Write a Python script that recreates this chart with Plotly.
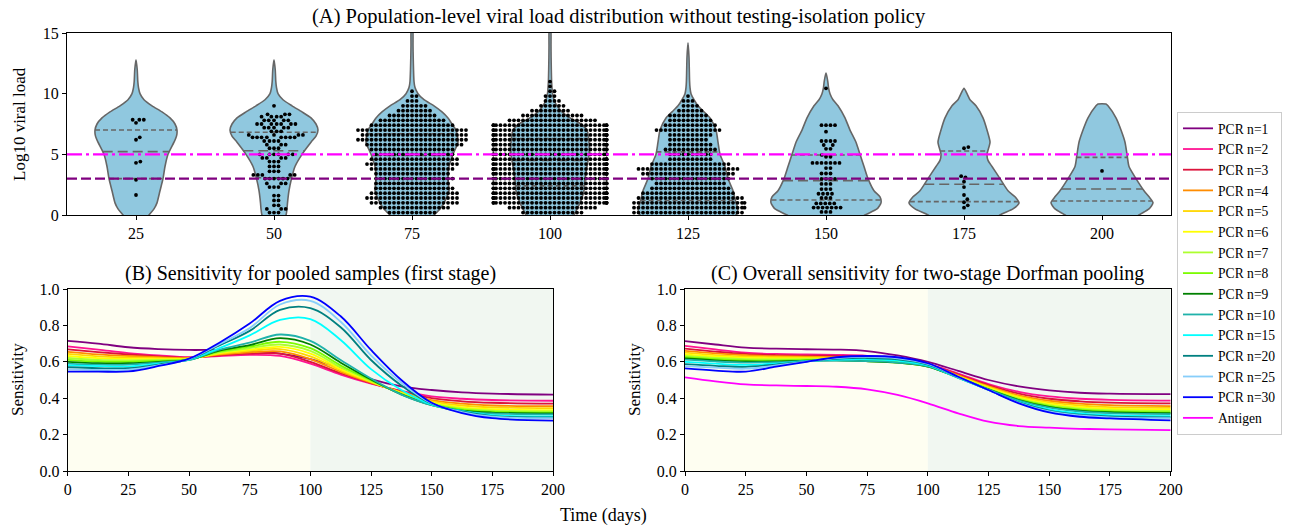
import numpy as np
import plotly.graph_objects as go

W, H = 1301, 526
FONT = "Liberation Serif, Times New Roman, serif"

# ---------------- Panel A data ----------------
groups = ["25", "50", "75", "100", "125", "150", "175", "200"]

# swarm points: log10 viral load levels and number of individuals at each level
swarm_levels = [
    [1.65, 2.9, 4.3, 4.4, 6.2, 6.4, 7.6, 7.85],
    [0.2, 0.5, 0.8, 1.2, 1.6, 2.3, 2.6, 3.0, 3.3, 3.6, 4.0, 4.4, 4.7, 5.0, 5.5, 5.8,
     6.1, 6.4, 6.6, 6.9, 7.2, 7.5, 7.8, 8.1, 8.3, 9.0],
    [0.2, 0.6, 1.0, 1.4, 1.8, 2.2, 2.6, 3.0, 3.4, 3.8, 4.2, 4.6, 5.0, 5.4, 5.8, 6.2,
     6.6, 7.0, 7.4, 7.8, 8.2, 8.6, 9.0, 9.4, 9.8, 10.2],
    [0.2, 0.6, 1.0, 1.4, 1.8, 2.2, 2.6, 3.0, 3.4, 3.8, 4.2, 4.6, 5.0, 5.4, 5.8, 6.2,
     6.6, 7.0, 7.4, 7.8, 8.2, 8.6, 9.0, 9.4, 9.8, 10.2, 10.6, 11.0],
    [0.2, 0.6, 1.0, 1.4, 1.8, 2.2, 2.6, 3.0, 3.4, 3.8, 4.2, 4.6, 5.0, 5.4, 5.8, 6.2,
     6.6, 7.0, 7.4, 7.8, 8.2, 8.6, 9.0, 9.4, 9.8],
    [0.25, 0.61, 0.95, 1.4, 1.75, 2.14, 2.56, 2.97, 3.42, 3.87, 4.29, 4.8, 4.95, 5.45,
     5.77, 6.1, 6.87, 7.4, 10.44],
    [0.6, 0.8, 1.05, 1.3, 1.65, 2.3, 2.75, 3.1, 3.2, 5.5, 5.6],
    [3.63],
]
swarm_counts = [
    [1, 1, 1, 1, 1, 1, 1, 3],
    [3, 3, 2, 2, 2, 3, 3, 6, 5, 3, 3, 3, 4, 6, 3, 3, 4, 8, 4, 3, 5, 7, 5, 4, 3, 1],
    [11, 16, 20, 21, 20, 18, 17, 18, 17, 19, 21, 20, 18, 19, 22, 25, 24, 25, 19, 15,
     11, 8, 6, 3, 2, 1],
    [14, 20, 30, 31, 30, 30, 31, 30, 30, 31, 30, 30, 31, 30, 30, 31, 30, 30, 29, 20,
     14, 9, 6, 4, 3, 2, 1, 1],
    [25, 26, 26, 24, 21, 18, 16, 18, 21, 23, 18, 10, 10, 12, 10, 9, 10, 15, 12, 10,
     9, 6, 4, 3, 1],
    [3, 7, 5, 3, 4, 3, 3, 4, 3, 2, 7, 2, 1, 2, 2, 4, 1, 4, 1],
    [1, 1, 1, 1, 1, 1, 1, 1, 1, 1, 1],
    [1],
]

# violin density profiles (arbitrary units) at log10 viral load levels
violin_levels = [
    [-1, 0, 0.5, 1, 2, 3, 4, 5, 6, 6.5, 7, 7.5, 8, 8.5, 9, 9.5, 10, 10.5, 11, 12, 12.8],
    [-1, 0, 0.5, 1, 2, 3, 4, 5, 6, 6.5, 7, 7.5, 8, 8.5, 9, 9.5, 10, 10.5, 11, 12, 12.8],
    [-1, 0, 0.5, 1, 2, 3, 4, 5, 6, 7, 7.5, 8, 8.5, 9, 9.5, 10, 10.5, 11, 12, 13, 14, 15, 16],
    [-1, 0, 0.5, 1, 2, 3, 4, 5, 6, 7, 7.5, 8, 8.5, 9, 9.5, 10, 10.5, 11, 12, 13, 14, 15, 16],
    [-1, 0, 0.5, 1, 2, 3, 4, 5, 6, 7, 8, 8.5, 9, 9.5, 10, 10.5, 11, 12, 13, 14.2],
    [-1, 0, 0.5, 1, 1.5, 2, 3, 4, 5, 6, 7, 8, 9, 9.5, 10, 10.5, 11, 11.7],
    [-1, 0, 0.5, 1, 1.5, 2, 3, 4, 4.5, 5, 6, 7, 8, 9, 9.5, 10, 10.44],
    [-1, 0, 0.5, 1, 1.5, 2, 3, 4, 5, 6, 7, 8, 9, 9.15],
]
violin_density = [
    [5, 13, 18, 21, 24, 27, 29, 32, 38, 40.5, 41, 39, 34, 26, 16, 8, 4, 2.5, 1.8, 1.2, 0],
    [3, 12, 13, 13.5, 15, 17.5, 21, 28, 37, 42, 44, 42, 37, 28, 18, 9, 4, 2.5, 1.8, 1.2, 0],
    [10, 22, 28, 32, 37, 36, 37, 41, 46, 44, 40, 36, 30, 22, 12, 6, 3, 2, 1.5, 1.2, 1, 1, 0],
    [12, 24, 27, 30, 34, 35, 37, 39, 39, 37, 31, 20, 12, 7, 4, 2.5, 2, 1.6, 1.3, 1.1, 1, 1, 0],
    [30, 48, 50, 48, 45, 40, 37, 32, 30, 28, 22, 16, 10, 6, 3, 2, 1.6, 1.3, 1, 0],
    [20, 39, 51, 55, 54, 48, 42, 38, 34, 30, 24, 19, 12, 7, 4, 2.5, 1.8, 0],
    [20, 36, 49, 55, 51, 44, 36, 28, 24, 23, 26, 23, 19, 12, 6, 3, 0],
    [20, 37, 47, 51, 47, 42, 34, 27, 25, 23, 19, 14, 6, 4],
]
q1_vals = [3.0, 3.07, 2.6, 2.4, 1.2, 1.24, 1.1, 1.15]
median_vals = [5.22, 5.3, 4.9, 4.5, 3.0, 2.83, 2.53, 2.14]
q3_vals = [7.0, 6.82, 6.7, 6.3, 5.2, 4.95, 5.27, 4.75]

pcr_threshold = 3.0
antigen_threshold = 5.0

# ---------------- Panels B / C data ----------------
days = [0, 12.5, 25, 37.5, 50, 62.5, 75, 87.5, 100, 112.5, 125, 137.5, 150, 162.5, 175, 200]
pool_names = ["PCR n=1", "PCR n=2", "PCR n=3", "PCR n=4", "PCR n=5", "PCR n=6", "PCR n=7",
              "PCR n=8", "PCR n=9", "PCR n=10", "PCR n=15", "PCR n=20", "PCR n=25", "PCR n=30"]
pool_colors = ["#800080", "#ff1493", "#dc143c", "#ff8c00", "#ffd700", "#ffff00", "#adff2f",
               "#7cfc00", "#008000", "#20b2aa", "#00ffff", "#008080", "#87cefa", "#0000ff"]

sens_first_stage = [
    [.715, .700, .680, .670, .665, .665, .660, .645, .615, .565, .505, .465, .445, .432, .425, .420],
    [.685, .667, .648, .635, .625, .632, .638, .632, .590, .530, .480, .440, .410, .397, .390, .386],
    [.668, .653, .640, .630, .623, .636, .645, .645, .600, .537, .483, .437, .400, .383, .375, .370],
    [.655, .641, .632, .625, .621, .640, .652, .657, .615, .545, .486, .434, .390, .370, .360, .356],
    [.643, .630, .624, .620, .619, .644, .660, .670, .630, .553, .489, .431, .383, .360, .350, .345],
    [.632, .620, .616, .615, .617, .648, .667, .682, .645, .561, .492, .428, .377, .350, .340, .335],
    [.621, .610, .608, .610, .615, .652, .675, .695, .660, .570, .495, .425, .371, .343, .332, .327],
    [.611, .601, .600, .605, .613, .657, .683, .710, .675, .580, .499, .423, .366, .337, .326, .321],
    [.600, .592, .592, .600, .611, .662, .692, .730, .695, .595, .503, .421, .362, .332, .321, .316],
    [.590, .584, .584, .596, .610, .667, .705, .750, .715, .610, .508, .420, .362, .327, .316, .311],
    [.580, .576, .574, .590, .612, .675, .745, .830, .835, .720, .560, .445, .365, .330, .307, .300],
    [.570, .565, .565, .585, .614, .690, .770, .885, .895, .790, .610, .470, .370, .327, .302, .295],
    [.558, .555, .557, .581, .615, .697, .785, .915, .935, .820, .635, .485, .372, .324, .298, .290],
    [.546, .546, .547, .577, .617, .705, .810, .935, .958, .850, .665, .500, .375, .318, .290, .277],
]
sens_two_stage = [
    [.714, .695, .678, .672, .669, .667, .659, .635, .600, .550, .500, .465, .443, .430, .425, .422],
    [.688, .668, .650, .643, .640, .638, .633, .618, .588, .535, .478, .435, .410, .397, .391, .387],
    [.672, .656, .643, .637, .634, .632, .627, .613, .585, .530, .472, .425, .397, .383, .376, .372],
    [.660, .646, .636, .631, .628, .626, .621, .608, .582, .526, .466, .416, .386, .370, .362, .357],
    [.650, .637, .629, .625, .623, .621, .616, .604, .579, .522, .461, .409, .377, .360, .351, .347],
    [.640, .629, .622, .619, .618, .617, .611, .600, .577, .519, .457, .403, .369, .351, .342, .337],
    [.632, .621, .615, .613, .614, .613, .607, .597, .575, .516, .453, .398, .362, .343, .334, .330],
    [.625, .614, .608, .607, .610, .610, .604, .595, .574, .514, .450, .393, .357, .337, .328, .324],
    [.618, .608, .602, .602, .607, .608, .603, .595, .574, .513, .448, .390, .352, .332, .323, .318],
    [.612, .602, .596, .598, .605, .607, .604, .596, .575, .512, .447, .387, .348, .327, .318, .313],
    [.600, .590, .583, .590, .603, .612, .614, .606, .580, .513, .445, .380, .338, .316, .307, .302],
    [.587, .578, .572, .585, .602, .616, .621, .613, .585, .515, .445, .377, .332, .309, .300, .295],
    [.576, .568, .562, .580, .601, .620, .627, .619, .589, .516, .445, .375, .327, .305, .295, .290],
    [.564, .552, .546, .573, .600, .625, .632, .625, .592, .518, .445, .372, .322, .298, .289, .278],
]
antigen_sens = [.515, .493, .476, .470, .467, .463, .449, .418, .372, .317, .271, .247, .238, .232, .229, .225]

shade_regions = [(0, 100, "#fefef1"), (100, 200, "#f1f7f1")]

# ---------------- geometry helpers (pixel layout) ----------------
def dom_x(a, b):
    return [a / W, b / W]

def dom_y(top, bottom):
    return [1 - bottom / H, 1 - top / H]

A_X = (67, 1171); A_Y = (33, 215)
B_X = (67.7, 553); B_Y = (289, 471)
C_X = (685, 1170.7); C_Y = (289, 471)

PX_PER_CAT = (A_X[1] - A_X[0]) / 8.0
PX_PER_UNIT = (A_Y[1] - A_Y[0]) / 15.0
DOT = 4.5
SWARM_HALF = 0.41

def beeswarm(values, d, ypx):
    vals = np.sort(np.asarray(values, float))
    ys = vals * ypx
    xs = np.zeros_like(ys)
    for k in range(len(ys)):
        y = ys[k]
        j0 = np.searchsorted(ys[:k], y - d, side="right")
        nx = xs[j0:k]
        dy = y - ys[j0:k]
        if len(nx) == 0:
            xs[k] = 0.0
            continue
        dxs = np.sqrt(np.maximum(d * d - dy * dy, 0))
        cand = np.concatenate([[0.0], nx + dxs, nx - dxs])
        cand = cand[np.argsort(np.abs(cand), kind="stable")]
        dist2 = (cand[:, None] - nx[None, :]) ** 2 + dy[None, :] ** 2
        ok = np.all(dist2 >= d * d - 1e-6, axis=1)
        xs[k] = cand[np.argmax(ok)] if ok.any() else 0.0
    return vals, xs

fig = go.Figure()

VIOLIN_FILL = "#90c8df"
VIOLIN_LINE = "#666666"

# violins
for i in range(len(groups)):
    lv = np.array(violin_levels[i], float)
    hw = np.array(violin_density[i], float) / PX_PER_CAT
    right_x = i + hw
    left_x = (i - hw)[::-1]
    left_y = lv[::-1]
    if hw[-1] == 0:
        left_x = left_x[1:]
        left_y = left_y[1:]
    fig.add_trace(go.Scatter(
        x=np.concatenate([right_x, left_x]), y=np.concatenate([lv, left_y]),
        mode="lines", fill="toself", fillcolor=VIOLIN_FILL,
        line=dict(color=VIOLIN_LINE, width=1.6, shape="spline", smoothing=0.6),
        xaxis="x", yaxis="y", showlegend=False, hoverinfo="skip"))
    for q, dash in ((q1_vals[i], "5px,3px"), (median_vals[i], "10px,5px"), (q3_vals[i], "5px,3px")):
        w = np.interp(q, lv, hw)
        fig.add_trace(go.Scatter(
            x=[i - w, i + w], y=[q, q], mode="lines",
            line=dict(color=VIOLIN_LINE, width=1.6, dash=dash),
            xaxis="x", yaxis="y", showlegend=False, hoverinfo="skip"))

# swarm
sx, sy = [], []
for i in range(len(groups)):
    vals = np.repeat(swarm_levels[i], swarm_counts[i])
    v, off = beeswarm(vals, DOT, PX_PER_UNIT)
    off = np.clip(off / PX_PER_CAT, -SWARM_HALF, SWARM_HALF)
    sx.extend((i + off).tolist())
    sy.extend(v.tolist())
fig.add_trace(go.Scatter(x=sx, y=sy, mode="markers",
                         marker=dict(color="black", size=3.8, line=dict(width=0)),
                         xaxis="x", yaxis="y", showlegend=False, hoverinfo="skip"))

# thresholds
fig.add_trace(go.Scatter(x=[-0.5, 7.5], y=[antigen_threshold] * 2, mode="lines",
                         line=dict(color="#ff00ff", width=2.2, dash="15px,4px,3px,4px"),
                         xaxis="x", yaxis="y", showlegend=False, hoverinfo="skip"))
fig.add_trace(go.Scatter(x=[-0.5, 7.5], y=[pcr_threshold] * 2, mode="lines",
                         line=dict(color="#800080", width=2.2, dash="10px,4px"),
                         xaxis="x", yaxis="y", showlegend=False, hoverinfo="skip"))

# panel B lines
for name, col, vals in zip(pool_names, pool_colors, sens_first_stage):
    fig.add_trace(go.Scatter(x=days, y=vals, mode="lines", name=name,
                             line=dict(color=col, width=1.8, shape="spline"),
                             xaxis="x2", yaxis="y2", showlegend=True))
# panel C lines
for name, col, vals in zip(pool_names, pool_colors, sens_two_stage):
    fig.add_trace(go.Scatter(x=days, y=vals, mode="lines", name=name,
                             line=dict(color=col, width=1.8, shape="spline"),
                             xaxis="x3", yaxis="y3", showlegend=False))
fig.add_trace(go.Scatter(x=days, y=antigen_sens, mode="lines", name="Antigen",
                         line=dict(color="#ff00ff", width=1.8, shape="spline"),
                         xaxis="x3", yaxis="y3", showlegend=True))

shapes = []
for xr in ("x2", "x3"):
    for a, b, c in shade_regions:
        shapes.append(dict(type="rect", xref=xr, yref=xr.replace("x", "y") + " domain",
                           x0=a, x1=b, y0=0, y1=1, fillcolor=c, line=dict(width=0),
                           layer="below"))

axis_common = dict(showline=True, mirror=True, linecolor="black", linewidth=1.2,
                   ticks="outside", ticklen=4, tickwidth=1.2, tickcolor="black",
                   showgrid=False, zeroline=False, automargin=False,
                   tickfont=dict(family=FONT, size=16, color="black"))

def ann(text, xpx, ypx, size, angle=0):
    return dict(text=text, x=xpx / W, y=1 - ypx / H, xref="paper", yref="paper",
                xanchor="center", yanchor="middle", showarrow=False, textangle=angle,
                font=dict(family=FONT, size=size, color="black"))

fig.update_layout(
    width=W, height=H, margin=dict(l=0, r=0, t=0, b=0, autoexpand=False),
    paper_bgcolor="white", plot_bgcolor="rgba(0,0,0,0)",
    font=dict(family=FONT, size=14, color="black"),
    xaxis=dict(domain=dom_x(*A_X), range=[-0.5, 7.5], tickvals=list(range(8)),
               ticktext=groups, anchor="y", **axis_common),
    yaxis=dict(domain=dom_y(*A_Y), range=[0, 15], tickvals=[0, 5, 10, 15],
               anchor="x", **axis_common),
    xaxis2=dict(domain=dom_x(*B_X), range=[0, 200], dtick=25, tick0=0, anchor="y2", **axis_common),
    yaxis2=dict(domain=dom_y(*B_Y), range=[0, 1], dtick=0.2, tickformat=".1f", anchor="x2", **axis_common),
    xaxis3=dict(domain=dom_x(*C_X), range=[0, 200], dtick=25, tick0=0, anchor="y3", **axis_common),
    yaxis3=dict(domain=dom_y(*C_Y), range=[0, 1], dtick=0.2, tickformat=".1f", anchor="x3", **axis_common),
    shapes=shapes,
    legend=dict(x=1177 / W, y=1 - 112 / H, xanchor="left", yanchor="top",
                bordercolor="#cccccc", borderwidth=1, bgcolor="white",
                font=dict(family=FONT, size=13.6, color="black"), tracegroupgap=0),
    annotations=[
        ann("(A) Population-level viral load distribution without testing-isolation policy",
            (A_X[0] + A_X[1]) / 2, 16, 20.5),
        ann("(B) Sensitivity for pooled samples (first stage)", (B_X[0] + B_X[1]) / 2, 273, 20),
        ann("(C) Overall sensitivity for two-stage Dorfman pooling", (C_X[0] + C_X[1]) / 2, 273, 20),
        ann("Log10 viral load", 19, 124, 17, -90),
        ann("Sensitivity", 17, 380, 17, -90),
        ann("Sensitivity", 634, 380, 17, -90),
        ann("Time (days)", 603, 515, 18),
    ],
)

fig.write_html("out.html", config={"displayModeBar": False},
               post_script="document.body.style.margin='0px';document.body.style.overflow='hidden';")
